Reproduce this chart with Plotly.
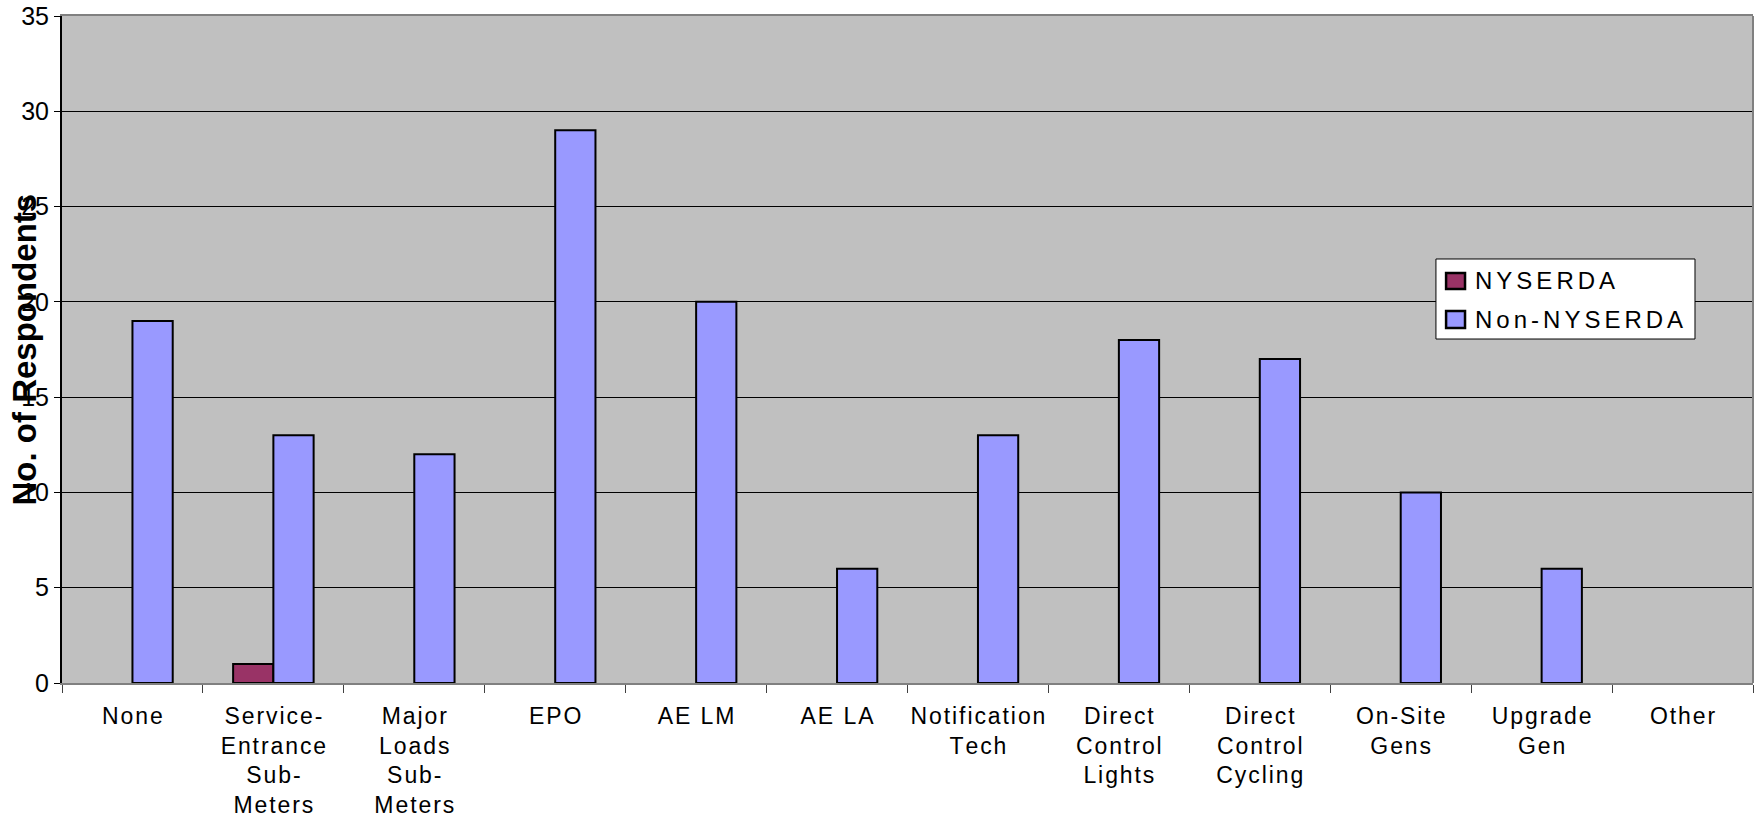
import plotly.graph_objects as go

categories = [
    "None", "Service-\nEntrance\nSub-\nMeters", "Major\nLoads\nSub-\nMeters",
    "EPO", "AE LM", "AE LA", "Notification\nTech", "Direct\nControl\nLights",
    "Direct\nControl\nCycling", "On-Site\nGens", "Upgrade\nGen", "Other",
]
series_names = ["NYSERDA", "Non-NYSERDA"]
nyserda = [0, 1, 0, 0, 0, 0, 0, 0, 0, 0, 0, 0]
non_nyserda = [19, 13, 12, 29, 20, 6, 13, 18, 17, 10, 6, 0]
y_ticks = [0, 5, 10, 15, 20, 25, 30, 35]
colors = ["#993366", "#9999FF"]

FONT = "Liberation Sans, Arial, sans-serif"
HAIR = "\u200a"


def spaced(s, gap=HAIR):
    # open up the letter spacing of a label, one line at a time
    return "<br>".join(gap.join(line) for line in s.split("\n"))


def drop_zero(vals):
    # zero counts draw no bar at all
    return [v if v else None for v in vals]


x_labels = [spaced(c) for c in categories]

fig = go.Figure()
for name, vals, col in zip(series_names, [nyserda, non_nyserda], colors):
    fig.add_trace(go.Bar(
        x=x_labels, y=drop_zero(vals), name=name,
        marker=dict(color=col, line=dict(color="black", width=2)),
    ))

fig.update_layout(
    width=1761, height=818,
    margin=dict(l=62, r=8, t=16, b=135),
    paper_bgcolor="white", plot_bgcolor="#C0C0C0",
    barmode="group", bargap=0.4286, bargroupgap=0,
    font=dict(family=FONT, size=23, color="black"),
    showlegend=False,
)

fig.update_xaxes(
    type="category", tickson="boundaries", ticks="outside", ticklen=8,
    tickcolor="#404040", tickwidth=1,
    showline=True, linecolor="#808080", linewidth=2, mirror=True,
    showgrid=False, tickangle=0, automargin=False, ticklabelstandoff=11,
    tickfont=dict(family=FONT, size=23, color="black"),
)
fig.update_yaxes(
    range=[0, 35], tickvals=y_ticks, ticks="outside", ticklen=6,
    tickcolor="black", tickwidth=1,
    showline=True, linecolor="black", linewidth=2,
    showgrid=True, gridcolor="black", gridwidth=1,
    zeroline=False, automargin=False,
    tickfont=dict(family=FONT, size=25, color="black"),
)

# right-hand border of the plot area
fig.add_shape(type="line", xref="paper", yref="paper", x0=1, x1=1, y0=0, y1=1,
              line=dict(color="#808080", width=2))

# legend box drawn by hand: white panel, square swatches, spaced names
fig.add_shape(type="rect", xref="paper", yref="paper",
              x0=0.8125, x1=0.9657, y0=0.5157, y1=0.6357,
              fillcolor="white", line=dict(color="black", width=1), layer="above")
swatch_rows = [(0.6147, 0.5907, 0.6027), (0.5577, 0.5322, 0.5457)]
for name, col, (top, bot, mid) in zip(series_names, colors, swatch_rows):
    fig.add_shape(type="rect", xref="paper", yref="paper",
                  x0=0.8185, x1=0.8297, y0=bot, y1=top,
                  fillcolor=col, line=dict(color="black", width=2.5), layer="above")
    fig.add_annotation(
        text=spaced(name, HAIR * 2), xref="paper", yref="paper",
        x=0.8344, y=mid, xanchor="left", yanchor="middle", showarrow=False,
        font=dict(family=FONT, size=24, color="black"),
    )

fig.add_annotation(
    text="<b>No. of Respondents</b>", xref="paper", yref="paper",
    x=-0.0219, y=0.5, xanchor="center", yanchor="middle", textangle=-90,
    showarrow=False, font=dict(family=FONT, size=33, color="black"),
)

fig.write_html("out.html")
